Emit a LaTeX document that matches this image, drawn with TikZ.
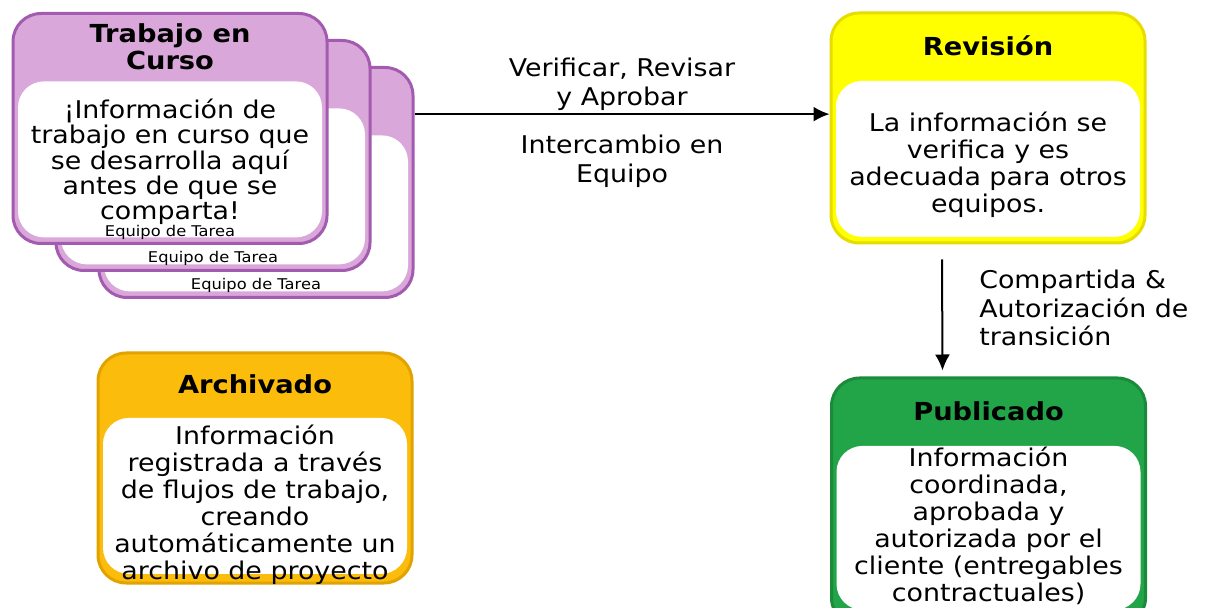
\documentclass[tikz,border=0pt]{standalone}
\usepackage{fontspec}
\setmainfont{DejaVu Sans}[FakeStretch=1.1]
\usepackage{tikz}
\usetikzlibrary{positioning,calc,arrows.meta}
\definecolor{wipfill}{HTML}{DAA7DA}
\definecolor{wipline}{HTML}{A35BAF}
\definecolor{revfill}{HTML}{FFFF00}
\definecolor{revline}{HTML}{E6DC00}
\definecolor{pubfill}{HTML}{22A548}
\definecolor{publine}{HTML}{1B8A3B}
\definecolor{arcfill}{HTML}{FBBC0C}
\definecolor{arcline}{HTML}{E2A300}
\newcommand{\bodyfont}{\fontsize{12.2}{13.5}\selectfont}
\newcommand{\headfont}{\bfseries\fontsize{12.4}{13.6}\selectfont}
\tikzset{
  stage/.style = {shape=rectangle, rounded corners=14pt, line width=1.5pt,
    minimum width=157pt, minimum height=115pt},
  body/.style = {shape=rectangle, rounded corners=13pt, fill=white,
    minimum width=152pt, minimum height=78pt, inner sep=0pt},
  txt/.style = {align=center, inner sep=0pt, font=\bodyfont, yshift=-3pt},
  head/.style = {align=center, inner sep=0pt, font=\headfont},
  team/.style = {inner sep=0pt, font=\fontsize{7.4}{8}\selectfont},
  lab/.style = {inner sep=0pt, font=\fontsize{12.2}{14.2}\selectfont},
  flow/.style = {-{Latex[length=8pt,width=7.5pt]}, line width=1pt}
}

\begin{document}
\begin{tikzpicture}[x=0.5pt, y=-0.5pt]
  \useasboundingbox (0,0) rectangle (1208,608);

  % stacked task team cards
  \foreach \n/\cx/\cy in {3/256/182.5, 2/213/155.5} {
    \node[stage, fill=wipfill, draw=wipline] (tc\n) at (\cx,\cy) {};
    \node[body, below=34.5pt of tc\n.north] (tc\n b) {};
    \node[team, above=3pt of tc\n.south] (tc\n t) {Equipo de Tarea};
  }
  \node[stage, fill=wipfill, draw=wipline] (tc1) at (170,128.5) {};
  \node[body, below=34.5pt of tc1.north] (tc1b) {};
  \node[txt, font=\fontsize{12.2}{12.6}\selectfont, yshift=1.8pt] (tc1x) at (tc1b)
    {¡Información de \\ trabajo en curso que \\ se desarrolla aquí \\ antes de que se \\ comparta!};
  \node[team, above=2.5pt of tc1.south] (tc1t) {Equipo de Tarea};
  \node[head] (tc1h) at ($(tc1.north)!0.5!(tc1b.north)$) {Trabajo en \\ Curso};

  % review
  \node[stage, fill=revfill, draw=revline] (rev) at (988,128) {};
  \node[body, below=34.5pt of rev.north] (revb) {};
  \node[txt] (revx) at (revb)
    {La información se \\ verifica y es \\ adecuada para otros \\ equipos.};
  \node[head] (revh) at ($(rev.north)!0.5!(revb.north)$) {Revisión};

  % published
  \node[stage, fill=pubfill, draw=publine, minimum height=124pt] (pub) at (988.5,502) {};
  \node[body, below=34.5pt of pub.north, minimum height=82pt] (pubb) {};
  \node[txt, yshift=4pt] (pubx) at (pubb)
    {Información \\ coordinada, \\ aprobada y \\ autorizada por el \\ cliente (entregables \\ contractuales)};
  \node[head] (pubh) at ($(pub.north)!0.5!(pubb.north)$) {Publicado};

  % archived
  \node[stage, fill=arcfill, draw=arcline] (arc) at (255,468) {};
  \node[body, below=33pt of arc.north] (arcb) {};
  \node[txt, yshift=-1.2pt] (arcx) at (arcb)
    {Información \\ registrada a través \\ de flujos de trabajo, \\ creando \\ automáticamente un \\ archivo de proyecto};
  \node[head] (arch) at ($(arc.north)!0.5!(arcb.north)$) {Archivado};

  % connectors
  \draw[flow] (tc3.east |- rev.175) --
    node[lab, above=1.5pt, align=center] (lab1) {Verificar, Revisar \\ y Aprobar}
    node[lab, below=10pt, align=center] (lab2) {Intercambio en \\ Equipo} (rev.175);
  \draw[flow] ([xshift=-23pt, yshift=-7.5pt]rev.south) --
    node[lab, right=18pt, align=left, yshift=3.5pt] (lab3) {Compartida \& \\ Autorización de \\ transición}
    ([xshift=-23pt, yshift=3pt]pub.north);
\end{tikzpicture}
\end{document}
